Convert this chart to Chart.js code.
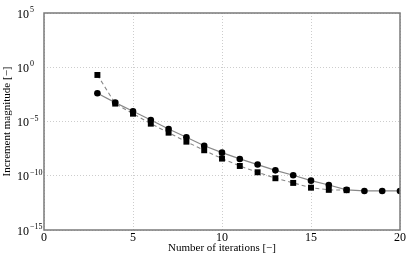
<!DOCTYPE html>
<html>
<head>
<meta charset="utf-8">
<script src="https://cdn.jsdelivr.net/npm/chart.js@4"></script>
<style>
  html, body { margin: 0; padding: 0; background: #fff; }
  #wrap { width: 407px; height: 257px; }
</style>
</head>
<body>
<div id="wrap"><canvas id="chart"></canvas></div>
<script>
// iterations and log10 of the increment magnitude
const iterCircle = [3, 4, 5, 6, 7, 8, 9, 10, 11, 12, 13, 14, 15, 16, 17, 18, 19, 20];
const expCircle = [-2.4, -3.26, -4.06, -4.86, -5.69, -6.45, -7.23, -7.87, -8.45, -8.97, -9.5, -9.95, -10.45, -10.85, -11.3, -11.4, -11.4, -11.4];
const iterSquare = [3, 4, 5, 6, 7, 8, 9, 10, 11, 12, 13, 14, 15, 16, 17];
const expSquare = [-0.71, -3.35, -4.28, -5.2, -6.03, -6.86, -7.65, -8.42, -9.1, -9.68, -10.23, -10.66, -11.1, -11.3, -11.33];
const xTicks = [0, 5, 10, 15, 20];
const yTickExps = [5, 0, -5, -10, -15];

const toPoints = (xs, es) => xs.map((x, i) => ({ x: x, y: Math.pow(10, es[i]) }));

const serif = '"Liberation Serif", "DejaVu Serif", serif';

// box around the plot and 10^n tick labels with raised exponents
const framePlugin = {
    id: 'frame',
    afterDraw(chart) {
        const ctx = chart.ctx;
        const a = chart.chartArea;
        const y = chart.scales.y;
        ctx.save();
        ctx.strokeStyle = '#7a7a7a';
        ctx.lineWidth = 1.5;
        ctx.strokeRect(a.left, a.top, a.right - a.left, a.bottom - a.top);
        ctx.fillStyle = '#000';
        ctx.textBaseline = 'middle';
        ctx.textAlign = 'left';
        yTickExps.forEach(e => {
            const py = y.getPixelForValue(Math.pow(10, e));
            ctx.font = '12px ' + serif;
            ctx.fillText('10', 17, py + 1.5);
            ctx.font = '8px ' + serif;
            const ex = e < 0 ? '\u2212' + (-e) : String(e);
            ctx.fillText(ex, 30, py - 3);
        });
        ctx.restore();
    }
};

const config = {
    type: 'line',
    data: {
        datasets: [
            {
                data: toPoints(iterCircle, expCircle),
                borderColor: '#888888',
                borderWidth: 1.2,
                pointStyle: 'circle',
                pointRadius: 3.3,
                pointBackgroundColor: '#000',
                pointBorderColor: '#000',
                pointBorderWidth: 0,
                tension: 0
            },
            {
                data: toPoints(iterSquare, expSquare),
                borderColor: '#888888',
                borderWidth: 1.1,
                borderDash: [4, 3],
                pointStyle: 'rect',
                pointRadius: 4.2,
                pointBackgroundColor: '#000',
                pointBorderColor: '#000',
                pointBorderWidth: 0,
                tension: 0
            }
        ]
    },
    options: {
        responsive: true,
        maintainAspectRatio: false,
        animation: false,
        layout: {
            padding: { top: 13, right: 7, left: 0, bottom: 0 }
        },
        plugins: {
            legend: { display: false },
            tooltip: { enabled: false }
        },
        scales: {
            x: {
                type: 'linear',
                min: 0,
                max: 20,
                afterBuildTicks: (s) => { s.ticks = xTicks.map(v => ({ value: v })); },
                afterFit: (s) => { s.height = 27; },
                border: { display: false, dash: [1, 2] },
                grid: {
                    color: '#c0c0c0',
                    lineWidth: 0.8,
                    drawTicks: false
                },
                ticks: {
                    color: '#000',
                    padding: 1,
                    maxRotation: 0,
                    font: { family: serif, size: 12 }
                },
                title: {
                    display: true,
                    text: 'Number of iterations [\u2212]',
                    color: '#000',
                    padding: { top: 0, bottom: 2 },
                    font: { family: serif, size: 11 }
                }
            },
            y: {
                type: 'logarithmic',
                min: 1e-15,
                max: 1e5,
                afterBuildTicks: (s) => { s.ticks = yTickExps.map(e => ({ value: Math.pow(10, e) })); },
                afterFit: (s) => { s.width = 44; },
                border: { display: false, dash: [1, 2] },
                grid: {
                    color: '#c0c0c0',
                    lineWidth: 0.8,
                    drawTicks: false
                },
                ticks: { display: false },
                title: {
                    display: true,
                    text: 'Increment magnitude [\u2212]',
                    color: '#000',
                    padding: { top: 1, bottom: 0 },
                    font: { family: serif, size: 11 }
                }
            }
        }
    },
    plugins: [framePlugin]
};

const chart = new Chart(document.getElementById('chart'), config);
</script>
</body>
</html>
